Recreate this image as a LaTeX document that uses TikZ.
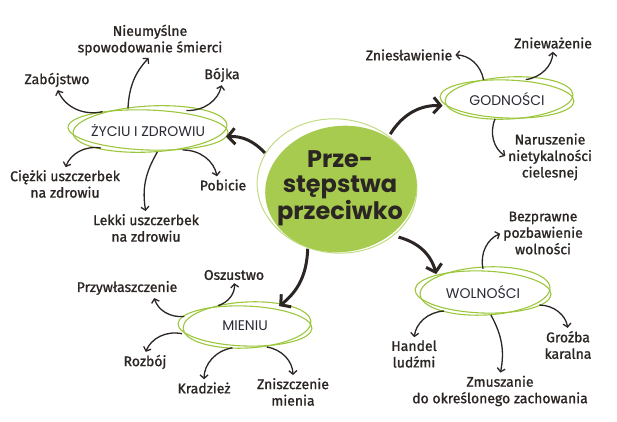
\documentclass[tikz,border=0pt]{standalone}
\usepackage{fontspec}
\setmainfont{Fira Sans}
\newfontfamily\lblfont{Fira Sans}[FakeBold=1.2]
\newfontfamily\ringfont{Poppins}
\newfontfamily\corefont{Poppins}
\usetikzlibrary{shapes.geometric}
\usetikzlibrary{arrows.meta}
\definecolor{ink}{HTML}{2B2523}
\definecolor{ringink}{HTML}{2A2A36}
\definecolor{limegreen}{HTML}{A7CB4E}
\definecolor{ringgreen}{HTML}{9CC63C}

\begin{document}
\begin{tikzpicture}[x=1pt,y=1pt,
    lbl/.style={align=center,text=ink,font=\lblfont\fontsize{14}{16.5}\selectfont,inner sep=1pt},
    ringlbl/.style={ellipse,inner sep=0pt,text=ringink,font=\ringfont\fontsize{14}{16}\selectfont},
    ring/.style={draw=ringgreen,line width=1.1pt},
    small/.style={draw=ink,line width=1.3pt,-{Straight Barb[length=3.5pt,width=8pt]},shorten >=2pt},
    big/.style={draw=ink,line width=3pt,-{Straight Barb[length=7pt,width=16pt]},shorten >=1pt}]
    \useasboundingbox (0,0) rectangle (617,422);

    % centre
    \draw[limegreen!70,line width=1pt] (337,236) ellipse[x radius=80, y radius=67, rotate=-6];
    \fill[limegreen] (341,233) ellipse[x radius=76, y radius=63, rotate=8];
    \node[ellipse,minimum width=156pt,minimum height=130pt,inner sep=0pt,align=center,
      text=ink,font=\corefont\bfseries\fontsize{24}{25}\selectfont] (core) at (340,234)
      {Prze-\\stępstwa\\przeciwko};

    % zyciu i zdrowiu
    \node[ringlbl,minimum width=160pt,minimum height=44pt] (zyc) at (148,292) {ŻYCIU I ZDROWIU};
    \draw[ring] (zyc.center) ellipse[x radius=80, y radius=20, rotate=-2];
    \draw[ring] ([shift={(2,1)}]zyc.center) ellipse[x radius=77, y radius=23, rotate=3];

    \node[lbl] (zab) at (57,342) {Zabójstwo};
    \node[lbl] (smi) at (150,382) {Nieumyślne\\spowodowanie śmierci};
    \node[lbl] (boj) at (222,347) {Bójka};
    \node[lbl] (cie) at (65,238) {Ciężki uszczerbek\\na zdrowiu};
    \node[lbl] (pob) at (223,237) {Pobicie};
    \node[lbl] (lek) at (146,194) {Lekki uszczerbek\\na zdrowiu};

    \draw[small] (zyc.158) to[bend left=40] (zab.south);
    \draw[small] (zyc.133) to[bend left=20] (smi.south);
    \draw[small] (zyc.27) to[bend right=40] (boj.south);
    \draw[small] (zyc.201) to[bend right=40] (cie.north);
    \draw[small] (zyc.293) to[bend right=20] (lek.north);
    \draw[small] (zyc.330) to[bend left=40] (pob.130);

    % godnosci
    \node[ringlbl,minimum width=134pt,minimum height=40pt] (god) at (507,323) {GODNOŚCI};
    \draw[ring] (god.center) ellipse[x radius=67, y radius=19, rotate=-2];
    \draw[ring] ([shift={(2,1)}]god.center) ellipse[x radius=64, y radius=21, rotate=3];

    \node[lbl] (zns) at (409,367) {Zniesławienie};
    \node[lbl] (znw) at (553,379) {Znieważenie};
    \node[lbl] (nar) at (550,265) {Naruszenie\\nietykalności\\cielesnej};

    \draw[small] (god.141) to[bend right=40] (zns.east);
    \draw[small] (god.46) to[bend right=40] (znw.south);
    \draw[small] (god.239) to[bend right=40] (nar.west);

    % wolnosci
    \node[ringlbl,minimum width=136pt,minimum height=46pt] (wol) at (483,130) {WOLNOŚCI};
    \draw[ring] (wol.center) ellipse[x radius=68, y radius=21, rotate=-2];
    \draw[ring] ([shift={(2,1)}]wol.center) ellipse[x radius=65, y radius=24, rotate=3];

    \node[lbl] (bez) at (543,189) {Bezprawne\\pozbawienie\\wolności};
    \node[lbl] (han) at (414,68) {Handel\\ludźmi};
    \node[lbl] (gro) at (568,77) {Groźba\\karalna};
    \node[lbl] (zmu) at (500,31) {Zmuszanie\\do określonego zachowania};

    \draw[small] (wol.90) to[bend left=40] (bez.west);
    \draw[small] (wol.206) to[bend right=40] (han.north);
    \draw[small] (wol.289) to[bend left=20] (zmu.north);
    \draw[small] (wol.347) to[bend left=40] (gro.north);

    % mieniu
    \node[ringlbl,minimum width=134pt,minimum height=44pt] (mie) at (245,96) {MIENIU};
    \draw[ring] (mie.center) ellipse[x radius=67, y radius=20, rotate=-2];
    \draw[ring] ([shift={(2,1)}]mie.center) ellipse[x radius=64, y radius=23, rotate=3];

    \node[lbl] (osz) at (234,147) {Oszustwo};
    \node[lbl] (prz) at (127,134) {Przywłaszczenie};
    \node[lbl] (roz) at (145,60) {Rozbój};
    \node[lbl] (kra) at (204,34) {Kradzież};
    \node[lbl] (zni) at (293,30) {Zniszczenie\\mienia};

    \draw[small] (mie.143) to[bend right=40] (osz.south);
    \draw[small] (mie.171) to[bend left=40] (prz.-17);
    \draw[small] (mie.187) to[bend right=40] (roz.north);
    \draw[small] (mie.240) to[bend right=40] (kra.north);
    \draw[small] (mie.316) to[bend left=40] (zni.north);

    % main arrows
    \draw[big] (core.155) to[bend right=25] (zyc.355);
    \draw[big] (core.47) to[bend left=30] (god.186);
    \draw[big] (core.242) to[bend left=25] (mie.30);
    \draw[big] (core.320) to[bend left=30] (wol.160);
\end{tikzpicture}
\end{document}
